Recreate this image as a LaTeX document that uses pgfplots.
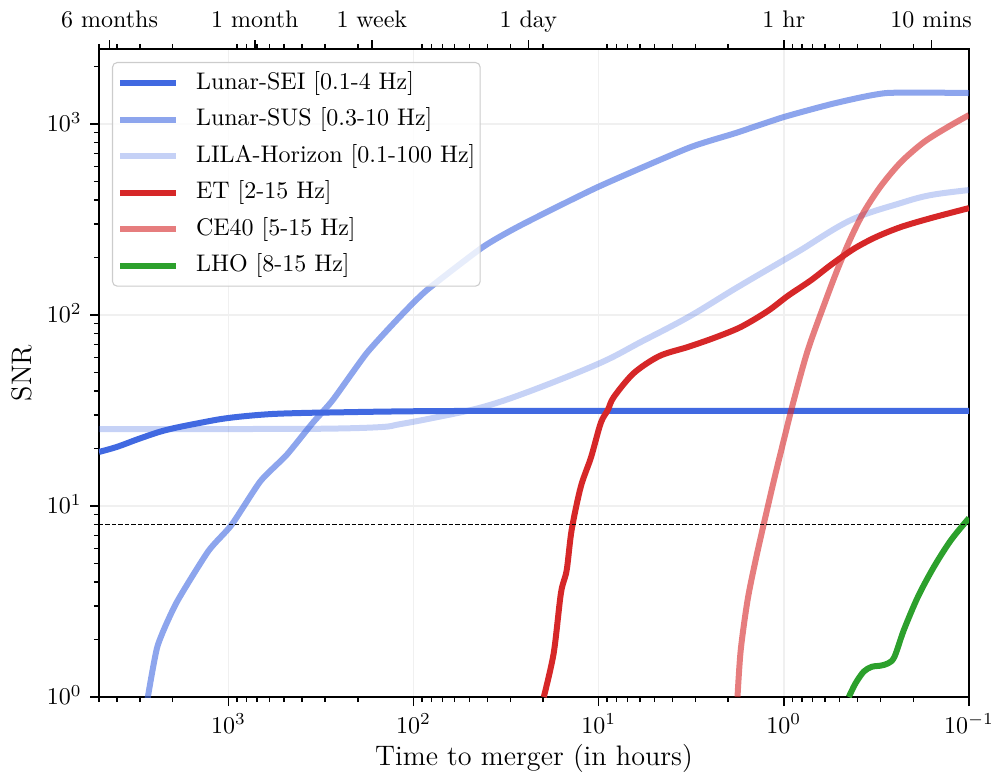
\documentclass[border=0pt]{standalone}
\usepackage{pgfplots}
\pgfplotsset{compat=1.18}
\definecolor{royal}{HTML}{4169E1}
\definecolor{tabred}{HTML}{D62728}
\definecolor{tabgreen}{HTML}{2CA02C}
\begin{document}
\begin{tikzpicture}
\useasboundingbox (-41.25pt,-32.08pt) rectangle (372.5pt,290.42pt);
\begin{axis}[
  at={(0pt,0pt)}, anchor=south west,
  scale only axis, width=362.5pt, height=270pt,
  xmode=log, ymode=log, x dir=reverse,
  xmin=0.1, xmax=5000, ymin=1, ymax=2470,
  xtick={0.1,1,10,100,1000},
  minor xtick={0.2,0.3,0.4,0.5,0.6,0.7,0.8,0.9,2,3,4,5,6,7,8,9,20,30,40,50,60,70,80,90,200,300,400,500,600,700,800,900,2000,3000,4000,5000},
  ytick={1,10,100,1000},
  minor ytick={2,3,4,5,6,7,8,9,20,30,40,50,60,70,80,90,200,300,400,500,600,700,800,900,2000},
  xtick pos=bottom, ytick pos=left,
  tick align=outside,
  major tick length=3.75pt, minor tick length=2.1pt,
  every tick/.style={black, line width=0.6pt},
  axis line style={line width=0.8pt},
  grid=major, major grid style={black!6, line width=0.6pt},
  tick label style={font=\fontsize{10}{12}\selectfont},
  xticklabel style={anchor=base, inner sep=0pt, yshift=-11.3pt},
  yticklabel style={anchor=base east, inner sep=0pt, xshift=-3.3pt, yshift=-3.3pt},
  xlabel={Time to merger (in hours)}, ylabel={SNR},
  label style={font=\fontsize{11.75}{14}\selectfont},
  xlabel style={at={([yshift=-28.5pt]axis description cs:0.5,0)}, anchor=base},
  ylabel style={at={([xshift=-28pt]axis description cs:0,0.5)}, anchor=base},
  every axis plot/.append style={line width=2.5pt, line join=round, no markers},
  legend style={
    at={(0,1)}, anchor=north west, xshift=5.4pt, yshift=-5.4pt,
    draw=black!20, line width=0.45pt, rounded corners=2pt,
    fill=white, fill opacity=0.8, text opacity=1,
    inner xsep=2pt, inner ysep=3.6pt,
    font=\fontsize{10}{12}\selectfont,
    row sep=5.2pt, column sep=7pt,
    nodes={inner sep=0pt, text height=7.5pt, text depth=2.5pt},
  },
  legend cell align=left,
  legend image code/.code={\draw[#1] (0pt,0pt) -- (23.3pt,0pt);},
]
\addplot[color=royal, smooth, tension=0.6] coordinates {
(5000,19.2)(4000,20.4)(2960,22.7)(2170,25.0)(1435,27.2)(1000,28.9)(622,30.2)(400,30.7)(273,30.9)(150,31.2)(80,31.4)(30,31.5)(10,31.5)(1,31.5)(0.1,31.5)};
\addlegendentry{Lunar-SEI [0.1-4 Hz]}
\addplot[color=royal, opacity=0.6, smooth, tension=0.35] coordinates {
(2800,0.85)(2421,1.83)(1910,3.11)(1283,5.81)(963,7.95)(671,13.5)(485,18.5)(351,27.2)(273,35.9)(179,63.2)(119,97.6)(84.8,135)(42.2,227)(26.2,296)(10.1,468)(3.28,749)(1.82,897)(1.0,1088)(0.524,1288)(0.278,1453)(0.1,1453)};
\addlegendentry{Lunar-SUS [0.3-10 Hz]}
\addplot[color=royal, opacity=0.3, smooth, tension=0.6] coordinates {
(5000,25.3)(1000,25.3)(300,25.4)(150,25.9)(119,26.8)(78.7,28.9)(42.2,33.0)(22.6,40.5)(9.82,56.1)(5.93,72.2)(3.28,97.6)(1.82,138)(1.0,194)(0.809,219)(0.435,314)(0.233,386)(0.160,425)(0.1,451)};
\addlegendentry{LILA-Horizon [0.1-100 Hz]}
\addplot[color=tabred, smooth, tension=0.5] coordinates {
(19.8,1.0)(17.5,1.7)(16.0,3.5)(14.9,4.6)(14.0,7.5)(12.5,12.6)(11.0,18.0)(9.75,27.2)(8.93,31.8)(8.29,37.2)(6.47,49.6)(4.7,61)(3.30,68.0)(2.39,75.8)(1.71,86.5)(1.22,105)(0.951,126)(0.714,152)(0.557,183)(0.419,222)(0.318,256)(0.233,289)(0.160,322)(0.1,363)};
\addlegendentry{ET [2-15 Hz]}
\addplot[color=tabred, opacity=0.6, smooth, tension=0.5] coordinates {
(1.78,1.0)(1.71,1.76)(1.57,3.22)(1.42,5.22)(1.28,8.15)(1.13,13.7)(1.0,22.2)(0.883,35.9)(0.742,65.6)(0.593,120)(0.510,176)(0.435,253)(0.370,346)(0.299,474)(0.233,632)(0.175,805)(0.130,965)(0.1,1114)};
\addlegendentry{CE40 [5-15 Hz]}
\addplot[color=tabgreen, smooth, tension=0.5] coordinates {
(0.446,1.0)(0.41,1.18)(0.37,1.36)(0.335,1.44)(0.30,1.46)(0.274,1.50)(0.253,1.62)(0.225,2.24)(0.189,3.34)(0.155,4.79)(0.125,6.64)(0.1,8.65)};
\addlegendentry{LHO [8-15 Hz]}
\addplot[forget plot, black, line width=0.5pt, dash pattern=on 1.8pt off 0.9pt] coordinates {(5000,8)(0.1,8)};
\end{axis}
\begin{axis}[
  at={(0pt,0pt)}, anchor=south west,
  scale only axis, width=362.5pt, height=270pt,
  xmode=log, x dir=reverse,
  xmin=0.1, xmax=5000, ymin=0, ymax=1,
  hide y axis,
  axis x line*=top,
  x axis line style={-, line width=0.8pt},
  tick align=outside,
  major tick length=3.75pt, minor tick length=2.1pt,
  every tick/.style={black, line width=0.6pt},
  xtick={4380,720,168,24,1,0.16},
  xticklabels={6 months,1 month,1 week,1 day,1 hr,10 mins},
  minor xtick={0.2,0.3,0.4,0.5,0.6,0.7,0.8,0.9,2,3,4,5,6,7,8,9,20,30,40,50,60,70,80,90,200,300,400,500,600,700,800,900,2000,3000,4000,5000},
  tick label style={font=\fontsize{10}{12}\selectfont},
  xticklabel style={anchor=base, inner sep=0pt, yshift=5.3pt},
]
\end{axis}
\end{tikzpicture}
\end{document}
